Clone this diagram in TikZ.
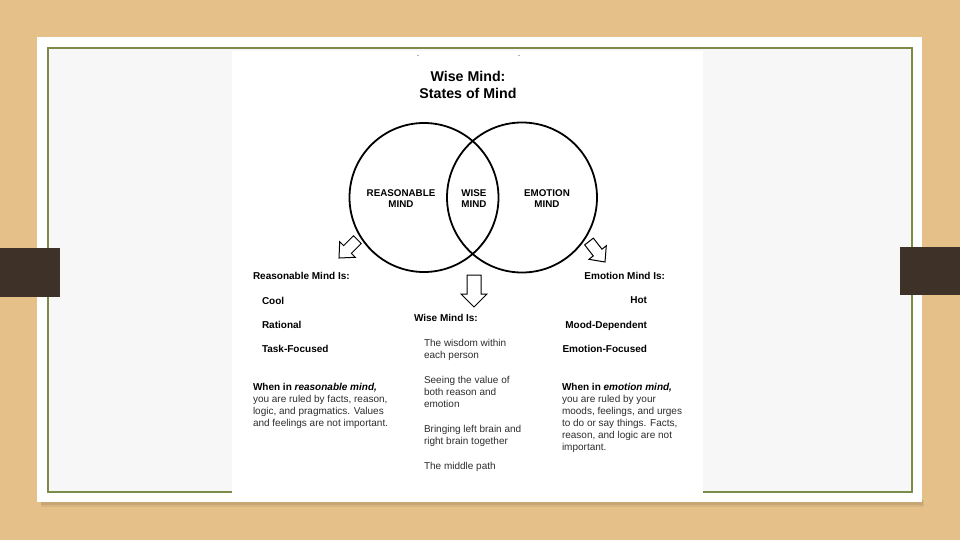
\documentclass[tikz,border=0pt]{standalone}
\usepackage{fontspec}
\setmainfont{Liberation Sans}
\definecolor{wood}{RGB}{229,193,137}
\definecolor{paper}{RGB}{247,247,247}
\definecolor{olive}{RGB}{124,139,72}
\definecolor{bar}{RGB}{62,49,40}
\definecolor{txtgray}{RGB}{45,45,45}

\begin{document}
\begin{tikzpicture}[x=1pt,y=-1pt,
  every node/.style={inner sep=0pt,outer sep=0pt},
  head/.style={font=\bfseries\fontsize{10}{12}\selectfont,text=black},
  body/.style={font=\fontsize{10}{12}\selectfont,text=txtgray,align=left},
  mind/.style={font=\bfseries\fontsize{9.8}{11.7}\selectfont,align=center},
  title/.style={font=\bfseries\fontsize{14.2}{17}\selectfont,align=center},
  blockarrow/.style={draw=black,line width=1pt,fill=white,line join=miter}]
\useasboundingbox (0,0) rectangle (960,540);
% slide
\fill[wood] (0,0) rectangle (960,540);
\fill[black,opacity=0.06] (41,500) rectangle (924,507);
\fill[black,opacity=0.08] (41,500) rectangle (923,505);
\fill[white] (37,37) rectangle (922,502);
\draw[olive,line width=2.5pt,fill=paper] (48,48) rectangle (912,492);
\fill[bar] (0,248) rectangle (60,297);
\fill[bar] (900,247) rectangle (960,295);
% handout
\fill[white] (232,51) rectangle (703,494);
\fill[black!60] (418,55.5) circle (0.7);
\fill[black!60] (519,55.5) circle (0.7);
\node[title] (ttl) at (468,85) {Wise Mind:\\States of Mind};
\draw[line width=1.8pt] (424,197.5) circle (74.5);
\draw[line width=1.8pt] (522,197.5) circle (75);
\node[mind] (rmind) at (401,198.5) {REASONABLE\\MIND};
\node[mind] (wmind) at (474,198.5) {WISE\\MIND};
\node[mind] (emind) at (547,198.5) {EMOTION\\MIND};
% arrows
\begin{scope}[shift={(339,258)},rotate=-45]
\draw[blockarrow] (0,0) -- (-11,-12) -- (-5.5,-12) -- (-5.5,-26) -- (5.5,-26) -- (5.5,-12) -- (11,-12) -- cycle;
\end{scope}
\begin{scope}[shift={(605,262)},rotate=38]
\draw[blockarrow] (0,0) -- (-11,-12) -- (-5.5,-12) -- (-5.5,-26) -- (5.5,-26) -- (5.5,-12) -- (11,-12) -- cycle;
\end{scope}
\draw[blockarrow] (474,307) -- (461,294) -- (467,294) -- (467,275) -- (481,275) -- (481,294) -- (487,294) -- cycle;
% reasonable mind
\node[head,anchor=north west] (rhead) at (253,272) {Reasonable Mind Is:};
\node[head,anchor=north west] (rcool) at (262,297) {Cool};
\node[head,anchor=north west] (rrat) at (262,321) {Rational};
\node[head,anchor=north west] (rtask) at (262,345) {Task-Focused};
\node[body,anchor=north west] (rpara) at (253,383) {\textbf{\color{black}When in \textit{reasonable mind,}}\\you are ruled by facts, reason,\\logic, and pragmatics. Values\\and feelings are not important.};
% wise mind
\node[head,anchor=north west] (whead) at (414,314) {Wise Mind Is:};
\node[body,anchor=north west] (wone) at (424,339) {The wisdom within\\each person};
\node[body,anchor=north west] (wtwo) at (424,376) {Seeing the value of\\both reason and\\emotion};
\node[body,anchor=north west] (wthree) at (424,425) {Bringing left brain and\\right brain together};
\node[body,anchor=north west] (wfour) at (424,462) {The middle path};
% emotion mind
\node[head,anchor=north east] (ehead) at (665,272) {Emotion Mind Is:};
\node[head,anchor=north east] (ehot) at (647,297) {Hot};
\node[head,anchor=north east] (emood) at (647,321) {Mood-Dependent};
\node[head,anchor=north east] (efoc) at (647,345) {Emotion-Focused};
\node[body,anchor=north west] (epara) at (562,383) {\textbf{\color{black}When in \textit{emotion mind,}}\\you are ruled by your\\moods, feelings, and urges\\to do or say things. Facts,\\reason, and logic are not\\important.};
\end{tikzpicture}
\end{document}
